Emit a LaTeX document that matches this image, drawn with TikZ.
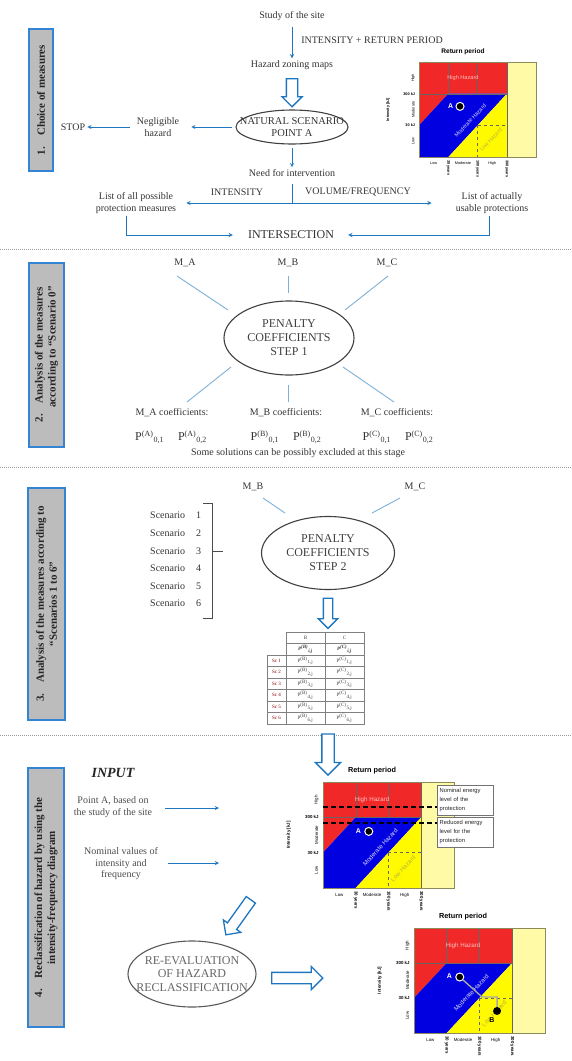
\documentclass[tikz,border=0pt]{standalone}
\usepackage{fontspec}
\setmainfont{Liberation Serif}
\newfontfamily\chartsans{Liberation Sans}
\usetikzlibrary{shapes.geometric, shapes.arrows, arrows}

\definecolor{arrowblue}{RGB}{30,118,192}
\definecolor{spokeblue}{RGB}{125,175,215}
\definecolor{boxblue}{RGB}{52,132,212}
\definecolor{boxgray}{RGB}{188,188,188}
\definecolor{hzred}{RGB}{240,40,40}
\definecolor{hzblue}{RGB}{0,0,225}
\definecolor{hzyellow}{RGB}{255,250,0}
\definecolor{hzpale}{RGB}{255,250,165}

% intensity-frequency chart, drawn in cell units
\newcommand{\hazchart}[3]{%
  \fill[hzred] (0,0) -- (3,0) -- (3,1) -- (1,1) -- (0,2) -- cycle;
  \fill[hzblue] (0,2) -- (1,1) -- (3,1) -- (1,3) -- (0,3) -- cycle;
  \fill[hzyellow] (1,3) -- (3,1) -- (3,3) -- cycle;
  \fill[hzpale] (3,0) rectangle (4,3);
  \draw[black!60, line width=0.4pt] (1,0) -- (1,1) (2,0) -- (2,1) (0,1) -- (3,1) (3,0) -- (3,3);
  \draw[black!60, line width=0.4pt, dashed] (2,2) -- (3,2) (2,2) -- (2,3);
  \draw[black!45!hzpale, line width=0.6pt] (0,0) rectangle (4,3);
  \node[font={\chartsans\bfseries\fontsize{#2}{#2}\selectfont}] (ret) at (1.5,-0.32) {Return period};
  \node[font={\chartsans\fontsize{#3}{#3}\selectfont}, text=white!75!red] (hzhigh) at (1.5,0.5) {High Hazard};
  \node[font={\chartsans\fontsize{#3}{#3}\selectfont}, text=white!85!blue, rotate=47] (hzmod) at (1.75,1.85) {Moderate Hazard};
  \node[font={\chartsans\fontsize{#3}{#3}\selectfont}, text=black!30!yellow, rotate=47] (hzlow) at (2.45,2.45) {Low Hazard};
  \node[font={\chartsans\bfseries\fontsize{#1}{#1}\selectfont}, rotate=90] (axint) at (-1.05,1.5) {Intensity [kJ]};
  \node[font={\chartsans\bfseries\fontsize{#1}{#1}\selectfont}, anchor=east] (k300) at (-0.12,1) {300 kJ};
  \node[font={\chartsans\bfseries\fontsize{#1}{#1}\selectfont}, anchor=east] (k30) at (-0.12,2) {30 kJ};
  \node[font={\chartsans\fontsize{#1}{#1}\selectfont}, rotate=90] (ihigh) at (-0.2,0.5) {High};
  \node[font={\chartsans\fontsize{#1}{#1}\selectfont}, rotate=90] (imod) at (-0.2,1.5) {Moderate};
  \node[font={\chartsans\fontsize{#1}{#1}\selectfont}, rotate=90] (ilow) at (-0.2,2.5) {Low};
  \node[font={\chartsans\fontsize{#1}{#1}\selectfont}] (flow) at (0.5,3.2) {Low};
  \node[font={\chartsans\fontsize{#1}{#1}\selectfont}] (fmod) at (1.5,3.2) {Moderate};
  \node[font={\chartsans\fontsize{#1}{#1}\selectfont}] (fhigh) at (2.5,3.2) {High};
  \node[font={\chartsans\bfseries\fontsize{#1}{#1}\selectfont}, rotate=-90, anchor=west] (y30) at (1,3.08) {30 years};
  \node[font={\chartsans\bfseries\fontsize{#1}{#1}\selectfont}, rotate=-90, anchor=west] (y100) at (2,3.08) {100 years};
  \node[font={\chartsans\bfseries\fontsize{#1}{#1}\selectfont}, rotate=-90, anchor=west] (y300) at (3,3.08) {300 years};
  \node[circle, fill=black, draw=white, line width=1pt, minimum size=8pt, inner sep=0pt] (ptA) at (1.4,1.4) {};
  \node[font={\chartsans\bfseries\fontsize{7}{7}\selectfont}, text=white] (lblA) at (1.08,1.38) {A};
}

\begin{document}
\begin{tikzpicture}[x=1pt, y=-1pt]

\tikzstyle{txt} = [font=\fontsize{10}{11.5}\selectfont, text=black!80, align=center, inner sep=2pt]
\tikzstyle{bigtxt} = [txt, font=\fontsize{12}{13.5}\selectfont]
\tikzstyle{coef} = [txt, font=\fontsize{12}{13}\selectfont]
\tikzstyle{arrow} = [line width=0.9pt, ->, >=stealth, draw=arrowblue]
\tikzstyle{spoke} = [line width=0.9pt, draw=spokeblue]
\tikzstyle{hollow} = [single arrow, draw=arrowblue, fill=white, line width=1.3pt, single arrow tip angle=90]
\tikzstyle{phase} = [rectangle, draw=boxblue, fill=boxgray, line width=1.6pt, rotate=90, align=center, text=black!85, font=\bfseries\fontsize{11}{13}\selectfont]
\tikzstyle{oval} = [ellipse, draw=black!75, line width=1.1pt, inner sep=0pt]
\tikzstyle{cell} = [inner sep=0pt, font=\fontsize{5}{5}\selectfont, text=black!75]
\tikzstyle{tab} = [black!50, line width=0.5pt]
\tikzstyle{sep} = [densely dotted, black!40, line width=1pt]
\tikzstyle{chart} = [every node/.append style={inner sep=0.3pt}]
\tikzstyle{note} = [draw=black!55, fill=white, inner sep=2pt, align=left, text width=52pt, minimum height=30pt, font={\chartsans\fontsize{5.8}{9.3}\selectfont}, text=black!85]
\tikzstyle{cut} = [black, line width=1.6pt, dash pattern=on 5pt off 3pt]

\useasboundingbox (0,0) rectangle (572,1061);

% 1. Choice of measures
\node[phase, minimum width=142pt, minimum height=24pt] (ph1) at (41,100) {1.\quad Choice of measures};
\node[txt] (study) at (292,16) {Study of the site};
\node[txt] (retper) at (372,40) {INTENSITY + RETURN PERIOD};
\node[txt] (hazard) at (292,65) {Hazard zoning maps};
\node[hollow, inner sep=5pt, single arrow head extend=4.5pt, minimum height=28pt, shape border rotate=270] (down1) at (292,90) {};
\node[oval, minimum width=112pt, minimum height=34pt] (scen) at (292,127) {};
\node[txt, font=\fontsize{10.5}{12}\selectfont] (scentxt) at (scen) {NATURAL SCENARIO\\POINT A};
\node[txt] (negl) at (158,127) {Negligible\\hazard};
\node[txt] (stop) at (73,127) {STOP};
\node[txt] (need) at (292,173) {Need for intervention};
\coordinate (split) at (292,203);
\node[txt] (intlbl) at (237,192) {INTENSITY};
\node[txt] (vollbl) at (358,192) {VOLUME/FREQUENCY};
\node[txt] (list1) at (136,203) {List of all possible\\protection measures};
\node[txt] (list2) at (492,203) {List of actually\\usable protections};
\node[bigtxt] (inter) at (291,235) {INTERSECTION};

\draw[arrow, shorten <=4pt] (study) -- (hazard);
\draw[arrow, shorten <=3pt, shorten >=10pt] (scen) -- (negl);
\draw[arrow, shorten <=5pt] (negl) -- (stop);
\draw[arrow, shorten <=3pt] (scen) -- (need);
\draw[line width=0.9pt, arrowblue, shorten <=5pt] (need) -- (split);
\draw[arrow, shorten >=8pt] (split) -- (list1);
\draw[arrow, shorten >=22pt] (split) -- (list2);
\draw[arrow, shorten >=13pt] ([xshift=-10pt]list1.south) |- (inter);
\draw[arrow, shorten >=12pt] ([xshift=-3pt]list2.south) |- (inter);

\begin{scope}[chart, shift={(419,62)}, x=29.3pt, y=-31.7pt, name prefix=c1-]
  \hazchart{3.8}{6.6}{5.6}
\end{scope}

\draw[sep] (0,249) -- (572,249);

% 2. Scenario 0
\node[phase, minimum width=184pt, minimum height=35pt] (ph2) at (46.5,355) {2.\quad Analysis of the measures\\\hspace*{16pt}according to “Scenario 0”};
\node[txt] (ma) at (185,263) {M\_A};
\node[txt] (mb) at (288,263) {M\_B};
\node[txt] (mc) at (387,263) {M\_C};
\node[oval, minimum width=130pt, minimum height=74pt, align=center, text=black!75, font=\fontsize{12}{14}\selectfont] (pen1) at (289,338) {PENALTY\\COEFFICIENTS\\STEP 1};
\draw[spoke] (ma) ++(-8,13) -- ++(51,34);
\draw[spoke] (mb) ++(0,13) -- ++(0,17);
\draw[spoke] (mc) ++(1,13) -- ++(-43,34);
\draw[spoke] (pen1) ++(-58,29) -- ++(-44,35);
\draw[spoke] (pen1) ++(-1,47) -- ++(0,17);
\draw[spoke] (pen1) ++(54,29) -- ++(51,35);
\node[txt] (mac) at (172,413) {M\_A coefficients:};
\node[txt] (mbc) at (286,413) {M\_B coefficients:};
\node[txt] (mcc) at (397,413) {M\_C coefficients:};
\node[coef] (coefa) at (171,437) {P\textsuperscript{(A)}\textsubscript{0,1}\hspace{14pt}P\textsuperscript{(A)}\textsubscript{0,2}};
\node[coef] (coefb) at (286,437) {P\textsuperscript{(B)}\textsubscript{0,1}\hspace{14pt}P\textsuperscript{(B)}\textsubscript{0,2}};
\node[coef] (coefc) at (398,437) {P\textsuperscript{(C)}\textsubscript{0,1}\hspace{14pt}P\textsuperscript{(C)}\textsubscript{0,2}};
\node[txt] (excl) at (298,453) {Some solutions can be possibly excluded at this stage};

\draw[sep] (0,467) -- (572,467);

% 3. Scenarios 1 to 6
\node[phase, minimum width=232pt, minimum height=37pt] (ph3) at (46.5,604) {3.\quad Analysis of the measures according to\\“Scenarios 1 to 6”};
\node[txt] (mb2) at (253,487) {M\_B};
\node[txt] (mc2) at (415,487) {M\_C};
\node[oval, minimum width=133pt, minimum height=73pt, align=center, text=black!75, font=\fontsize{12}{14}\selectfont] (pen2) at (328,553) {PENALTY\\COEFFICIENTS\\STEP 2};
\draw[spoke] (mb2) ++(10,11) -- ++(22,15);
\draw[spoke] (mc2) ++(-15,11) -- ++(-28,15);
\foreach \i in {1,...,6}
  \node[txt, anchor=west, inner sep=0pt] (sc\i) at (150,{498+17.6*\i}) {Scenario\hspace{11pt}\i};
\draw[black!70, line width=0.8pt] (203,503) -- (212,503) -- (212,618) -- (203,618) (212,551) -- (223,551);
\node[hollow, inner sep=4pt, single arrow head extend=5pt, minimum height=30pt, shape border rotate=270] (down2) at (328,611) {};

% table
\foreach \i in {1,...,6} {
  \draw[tab] (267,{643.5+11.5*\i}) rectangle (364,{655+11.5*\i});
  \node[cell, text=red!50!black] (sclbl\i) at (276.5,{649.25+11.5*\i}) {Sc \i};
  \node[cell] (tbb\i) at (305.5,{649.25+11.5*\i}) {P\textsuperscript{(B)}\textsubscript{\i,j}};
  \node[cell] (tbc\i) at (344.5,{649.25+11.5*\i}) {P\textsuperscript{(C)}\textsubscript{\i,j}};
}
\draw[tab] (286,632) rectangle (364,655) (286,643.5) -- (364,643.5) (286,632) -- (286,724) (325,632) -- (325,724);
\node[cell] (tbhb) at (305.5,637.75) {B};
\node[cell] (tbhc) at (344.5,637.75) {C};
\node[cell, font=\bfseries\itshape\fontsize{5}{5}\selectfont] (tbib) at (305.5,649.25) {P\textsuperscript{(B)}\textsubscript{i,j}};
\node[cell, font=\bfseries\itshape\fontsize{5}{5}\selectfont] (tbic) at (344.5,649.25) {P\textsuperscript{(C)}\textsubscript{i,j}};

\draw[sep] (0,735) -- (572,735);
\node[hollow, inner sep=5.5pt, single arrow head extend=6.5pt, minimum height=41pt, shape border rotate=270] (down3) at (328,751.5) {};

% 4. Reclassification
\node[phase, minimum width=259pt, minimum height=36pt] (ph4) at (46,897.5) {4.\quad Reclassification of hazard by using the\\intensity-frequency diagram};
\node[font=\bfseries\itshape\fontsize{14}{16}\selectfont, text=black!85] (input) at (113,773) {INPUT};
\node[txt, text=black!70] (pointa) at (113,807) {Point A, based on\\the study of the site};
\node[txt, text=black!70] (nominal) at (121,864) {Nominal values of\\intensity and\\frequency};
\coordinate (ina) at (219,808);
\coordinate (inb) at (219,863);
\draw[arrow] (pointa.east |- ina) ++(11,0) -- (ina);
\draw[arrow] (nominal.east |- inb) ++(8,0) -- (inb);
\node[hollow, inner sep=5pt, single arrow head extend=5pt, minimum height=43pt, rotate=234.5] (diag) at (240,915) {};
\node[oval, draw=black!65, minimum width=128pt, minimum height=66pt] (reeval) at (192,974) {};
\node[txt, font=\fontsize{12}{13.5}\selectfont, text=black!60] (reevaltxt) at (reeval) {RE-EVALUATION\\OF HAZARD\\RECLASSIFICATION};
\node[hollow, inner sep=5pt, single arrow head extend=6pt, minimum height=51pt] (right1) at (294.5,978) {};

\begin{scope}[chart, shift={(323,782)}, x=32.7pt, y=-35.3pt, name prefix=c2-]
  \hazchart{4.4}{7.3}{6.2}
  \coordinate (nomy) at (0,0.71);
  \coordinate (redy) at (0,1.16);
  \node[note, anchor=north west] (nom) at (3.5,0.08) {Nominal energy\\level of the\\protection};
  \node[note, anchor=north west] (rdc) at (3.5,0.99) {Reduced energy\\level for the\\protection};
  \draw[cut] (nomy) -- (nomy -| nom.west);
  \draw[cut] (redy) -- (redy -| rdc.west);
\end{scope}

\begin{scope}[chart, shift={(414,928)}, x=32.7pt, y=-35pt, name prefix=c3-]
  \hazchart{4.4}{7.3}{6.2}
  \node[circle, fill=black, minimum size=8pt, inner sep=0pt] (ptB) at (2.54,2.37) {};
  \node[font={\chartsans\bfseries\fontsize{7}{7}\selectfont}] (lblB) at (2.38,2.64) {B};
  \draw[black!35, line width=1.4pt] (ptA) -- (2.08,1.97) -| (ptB);
\end{scope}

\end{tikzpicture}
\end{document}
